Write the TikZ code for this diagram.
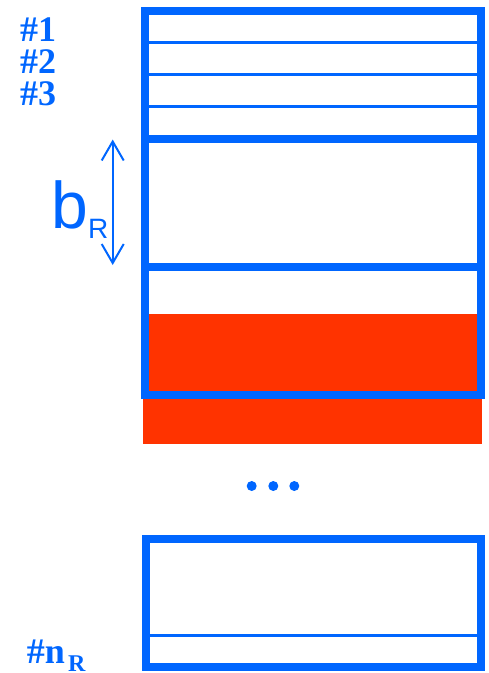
\documentclass[tikz,border=0pt]{standalone}
\usepackage{fontspec}
\setmainfont{Liberation Serif}
\newfontfamily\sansf{Liberation Sans}
\usetikzlibrary{arrows.meta}
\definecolor{rblue}{HTML}{0066FF}
\definecolor{rred}{HTML}{FF3300}
\tikzset{
  frame/.style={draw=rblue, line width=8pt},
  thin/.style={draw=rblue, line width=3pt},
  thick/.style={draw=rblue, line width=8pt},
  redfill/.style={fill=rred, draw=none},
  lbl/.style={text=rblue, anchor=base west, inner sep=0pt, outer sep=0pt},
  numlbl/.style={lbl, text height=24pt, text depth=0pt, font=\fontsize{36}{36}\selectfont\bfseries},
  dot/.style={fill=rblue, draw=none},
  dimarrow/.style={draw=rblue, line width=2pt, {Straight Barb[length=19pt,width=22pt,line width=2pt]}-{Straight Barb[length=19pt,width=22pt,line width=2pt]}}
}
\begin{document}
\begin{tikzpicture}[x=1pt,y=-1pt]
\useasboundingbox (0,0) rectangle (488,673);
% red areas
\path[redfill] (149,313.5) rectangle (477,395);
\path[redfill] (143.3,395) rectangle (482.3,444.3);
% top frame
\draw[frame] (145.3,11) rectangle (481,395);
\draw[thin] (149,42.7) -- (477,42.7);
\draw[thin] (149,74.7) -- (477,74.7);
\draw[thin] (149,106.7) -- (477,106.7);
\draw[thick] (149,139) -- (477,139);
\draw[thick] (149,266.5) -- (477,266.5);
% labels
\node[numlbl] (l1) at (20,41) {\#1};
\node[numlbl] (l2) at (20,73) {\#2};
\node[numlbl] (l3) at (20,105) {\#3};
% dimension arrow
\coordinate (atop) at (112.7,139.5);
\coordinate (abot) at (112.7,265);
\draw[dimarrow] (atop) -- (abot);
\node[lbl, text depth=0pt, font=\sansf\fontsize{66}{66}\selectfont] (b) at (51.5,228) {b};
\node[lbl, text depth=0pt, font=\sansf\fontsize{28}{28}\selectfont] (bR) at (88,238) {R};
% dots
\fill[dot] (251.7,486) circle (5);
\fill[dot] (273.3,486) circle (5);
\fill[dot] (294.3,486) circle (5);
% bottom frame
\draw[frame] (145.5,539) rectangle (481,666.5);
\draw[thin] (149,635) -- (477,635);
\node[numlbl] (ln) at (27,663) {\#n};
\node[lbl, text height=16pt, text depth=0pt, font=\fontsize{24}{24}\selectfont\bfseries] (lnR) at (68,671) {R};
\end{tikzpicture}
\end{document}
